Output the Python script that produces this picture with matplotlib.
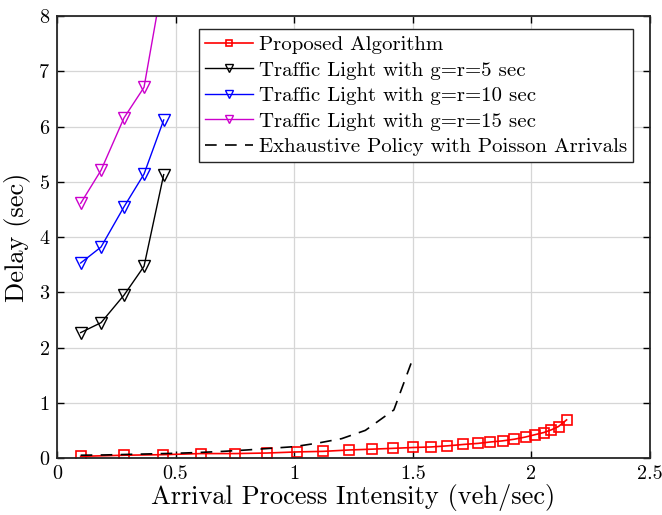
import matplotlib
matplotlib.use('Agg')
import matplotlib.pyplot as plt

plt.rcParams['font.family'] = 'serif'
plt.rcParams['font.serif'] = ['cmr10', 'DejaVu Serif']
plt.rcParams['mathtext.fontset'] = 'cm'
plt.rcParams['axes.formatter.use_mathtext'] = True

# traffic light runs
tl_x = [0.1, 0.186, 0.283, 0.367, 0.45]
tl5 = [2.27, 2.45, 2.95, 3.47, 5.13]
tl10 = [3.53, 3.82, 4.55, 5.14, 6.12]
tl15 = [4.61, 5.21, 6.16, 6.71, 8.73]

# proposed algorithm
prop_x = [0.1, 0.283, 0.447, 0.608, 0.751, 0.886, 1.013, 1.122, 1.232, 1.329,
          1.418, 1.502, 1.578, 1.646, 1.713, 1.776, 1.827, 1.878, 1.928, 1.975,
          2.013, 2.051, 2.084, 2.114, 2.148]
prop_y = [0.03, 0.05, 0.06, 0.08, 0.08, 0.09, 0.11, 0.12, 0.145, 0.16,
          0.175, 0.19, 0.2, 0.22, 0.245, 0.265, 0.29, 0.31, 0.34, 0.38,
          0.42, 0.46, 0.51, 0.57, 0.69]

# exhaustive policy, poisson arrivals
ex_x = [0.1, 0.2, 0.3, 0.4, 0.5, 0.6, 0.7, 0.8, 0.9, 1.0, 1.1, 1.2, 1.3, 1.42, 1.5]
ex_y = [0.05, 0.055, 0.065, 0.075, 0.085, 0.10, 0.12, 0.145, 0.175, 0.205,
        0.27, 0.35, 0.50, 0.87, 1.8]

fig = plt.figure(figsize=(6.62, 5.15), dpi=100)
ax = fig.add_axes([0.086, 0.1107, 0.896, 0.858])

ax.plot(prop_x, prop_y, '-s', color='red', mfc='none', ms=6.5, mew=1.2, lw=1.2,
        label='Proposed Algorithm')
ax.plot(tl_x, tl5, '-v', color='black', mfc='none', ms=8, mew=1.0, lw=1.0,
        label='Traffic Light with g=r=5 sec')
ax.plot(tl_x, tl10, '-v', color='blue', mfc='none', ms=8, mew=1.0, lw=1.0,
        label='Traffic Light with g=r=10 sec')
ax.plot(tl_x, tl15, '-v', color='#cc00cc', mfc='none', ms=8, mew=1.0, lw=1.0,
        label='Traffic Light with g=r=15 sec')
ax.plot(ex_x, ex_y, '--', color='black', lw=1.2, dashes=(7, 5),
        label='Exhaustive Policy with Poisson Arrivals')

ax.set_xlim(0, 2.5)
ax.set_ylim(0, 8)
ax.set_xticks([0, 0.5, 1, 1.5, 2, 2.5])
ax.set_xticklabels(['0', '0.5', '1', '1.5', '2', '2.5'])
ax.set_yticks(range(9))
ax.grid(True, color='#d6d6d6', lw=0.9)
ax.set_axisbelow(True)
ax.tick_params(direction='in', top=True, right=True, labelsize=14.5, length=5,
               width=1.0, pad=5)
for s in ax.spines.values():
    s.set_linewidth(1.3)
    s.set_color('#262626')

ax.set_xlabel('Arrival Process Intensity (veh/sec)', fontsize=19, labelpad=1)
ax.set_ylabel('Delay (sec)', fontsize=19, labelpad=5)

leg = ax.legend(loc='upper right', bbox_to_anchor=(0.972, 0.97), fontsize=15,
                fancybox=False, framealpha=1, edgecolor='#262626',
                handlelength=2.3, labelspacing=0.33, borderpad=0.3,
                handletextpad=0.3, markerscale=0.65, borderaxespad=0)
leg.get_frame().set_linewidth(1.0)

fig.savefig('out.png', dpi=100)
